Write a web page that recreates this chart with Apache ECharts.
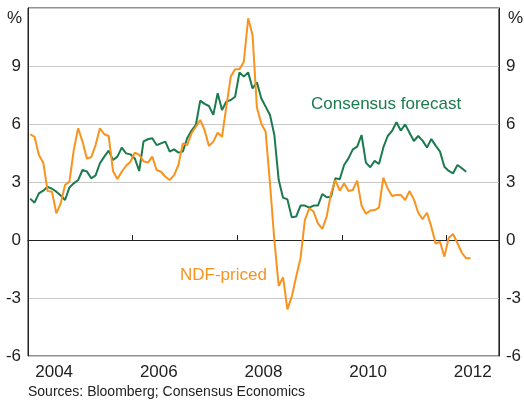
<!DOCTYPE html>
<html>
<head>
<meta charset="utf-8">
<script src="https://cdn.jsdelivr.net/npm/echarts@6/dist/echarts.min.js"></script>
<style>
  html, body { margin: 0; padding: 0; background: #fff; }
  #chart { width: 524px; height: 403px; }
</style>
</head>
<body>
<div id="chart"></div>
<script>
var START_YEAR = 2004
var years = ['2004', '2005', '2006', '2007', '2008', '2009', '2010', '2011', '2012']
var yTicks = [-6, -3, 0, 3, 6, 9]

// monthly, from Jan 2004
var consensus = [
    2.14, 1.93, 2.41, 2.55, 2.75, 2.65, 2.5, 2.3, 2.07, 2.72, 2.93, 3.1,
    3.62, 3.55, 3.19, 3.34, 3.97, 4.31, 4.62, 4.14, 4.31, 4.78, 4.48, 4.43,
    4.22, 3.57, 5.1, 5.21, 5.26, 4.91, 5.0, 5.09, 4.57, 4.69, 4.52, 4.57,
    5.26, 5.66, 5.95, 7.21, 7.04, 6.93, 6.47, 7.59, 6.72, 7.16, 7.24, 7.41,
    8.67, 8.45, 8.67, 7.84, 8.16, 7.33, 6.9, 6.47, 5.43, 3.1, 2.19, 2.1,
    1.17, 1.21, 1.78, 1.78, 1.67, 1.78, 1.78, 2.38, 2.21, 2.24, 3.19, 3.14,
    3.88, 4.22, 4.69, 4.83, 5.43, 4.0, 3.76, 4.09, 3.93, 4.79, 5.38, 5.64,
    6.09, 5.66, 5.98, 5.55, 5.12, 5.38, 5.14, 4.78, 5.22, 4.88, 4.57, 3.79,
    3.57, 3.45, 3.88, 3.71, 3.53
]
var ndf = [
    5.47, 5.34, 4.4, 4.0, 2.53, 2.5, 1.38, 1.9, 2.84, 3.02, 4.66, 5.78,
    5.09, 4.22, 4.28, 4.91, 5.78, 5.47, 5.38, 3.57, 3.16, 3.53, 3.84, 4.05,
    4.52, 4.4, 4.07, 4.0, 4.31, 3.62, 3.53, 3.27, 3.1, 3.36, 3.88, 5.0,
    4.91, 5.52, 5.86, 6.21, 5.69, 4.86, 5.09, 5.55, 5.34, 6.9, 8.45, 8.83,
    8.83, 9.22, 11.47, 10.6, 6.85, 6.03, 5.6, 2.93, 0.0, -2.38, -1.93, -3.59,
    -2.93, -1.9, -0.95, 1.03, 1.64, 1.47, 0.86, 0.57, 1.21, 2.41, 3.1, 2.55,
    2.93, 2.53, 2.59, 3.07, 1.78, 1.36, 1.52, 1.55, 1.67, 3.22, 2.67, 2.28,
    2.33, 2.33, 2.07, 2.53, 2.1, 1.41, 1.07, 1.41, 0.69, -0.19, -0.09, -0.86,
    0.12, 0.31, -0.17, -0.66, -0.95, -0.95
]

var FONT = '"Liberation Sans", Arial, sans-serif'
var GREEN = '#1b7a4e'
var ORANGE = '#f7931e'

var toPairs = function (values) {
    var res = []
    for (var i = 0; i < values.length; i++) {
        res.push([START_YEAR + (i + 0.5) / 12, values[i]])
    }
    return res
}

var yAxisBase = function (position) {
    return {
        type: 'value',
        position: position,
        min: -6,
        max: 12,
        interval: 3,
        axisLine: { show: true, lineStyle: { color: '#222', width: 1 } },
        axisTick: { show: false },
        axisLabel: {
            margin: 7,
            fontFamily: FONT,
            fontSize: 17,
            color: '#222',
            formatter: function (v) {
                return yTicks.indexOf(v) >= 0 ? String(v) : ''
            }
        },
        splitLine: {
            show: position == 'left',
            lineStyle: { color: ['#c8c8c8', '#c8c8c8', '#111', '#c8c8c8', '#c8c8c8', '#c8c8c8', '#c8c8c8'], width: 1 }
        }
    }
}

var chart = echarts.init(document.getElementById('chart'), null, { renderer: 'canvas' })
chart.setOption({
    animation: false,
    backgroundColor: '#fff',
    grid: {
        left: 28, right: 23, top: 8, bottom: 47,
        show: true, borderColor: '#222', borderWidth: 1
    },
    xAxis: [
        {
            type: 'category',
            data: years,
            boundaryGap: true,
            axisLine: { show: true, lineStyle: { color: '#222', width: 1 } },
            axisTick: { show: true, inside: true, length: 5, lineStyle: { color: '#222' } },
            axisLabel: {
                interval: 1,
                margin: 8,
                fontFamily: FONT,
                fontSize: 17,
                color: '#222'
            },
            splitLine: { show: false }
        },
        {
            type: 'value',
            min: START_YEAR,
            max: START_YEAR + years.length,
            show: false
        }
    ],
    yAxis: [yAxisBase('left'), yAxisBase('right')],
    series: [
        {
            name: 'Consensus forecast',
            type: 'line',
            xAxisIndex: 1,
            yAxisIndex: 0,
            data: toPairs(consensus),
            showSymbol: false,
            lineStyle: { color: GREEN, width: 2 },
            z: 3
        },
        {
            name: 'NDF-priced',
            type: 'line',
            xAxisIndex: 1,
            yAxisIndex: 0,
            data: toPairs(ndf),
            showSymbol: false,
            lineStyle: { color: ORANGE, width: 2 },
            z: 4
        }
    ],
    graphic: [
        { type: 'text', left: 7, top: 10, style: { text: '%', font: '17px ' + FONT, fill: '#222' } },
        { type: 'text', left: 508, top: 10, style: { text: '%', font: '17px ' + FONT, fill: '#222' } },
        { type: 'text', left: 311, top: 96, style: { text: 'Consensus forecast', font: '17px ' + FONT, fill: GREEN } },
        { type: 'text', left: 180, top: 267, style: { text: 'NDF-priced', font: '17px ' + FONT, fill: ORANGE } },
        { type: 'text', left: 28, top: 385, style: { text: 'Sources: Bloomberg; Consensus Economics', font: '14px ' + FONT, fill: '#222' } }
    ]
})
</script>
</body>
</html>
